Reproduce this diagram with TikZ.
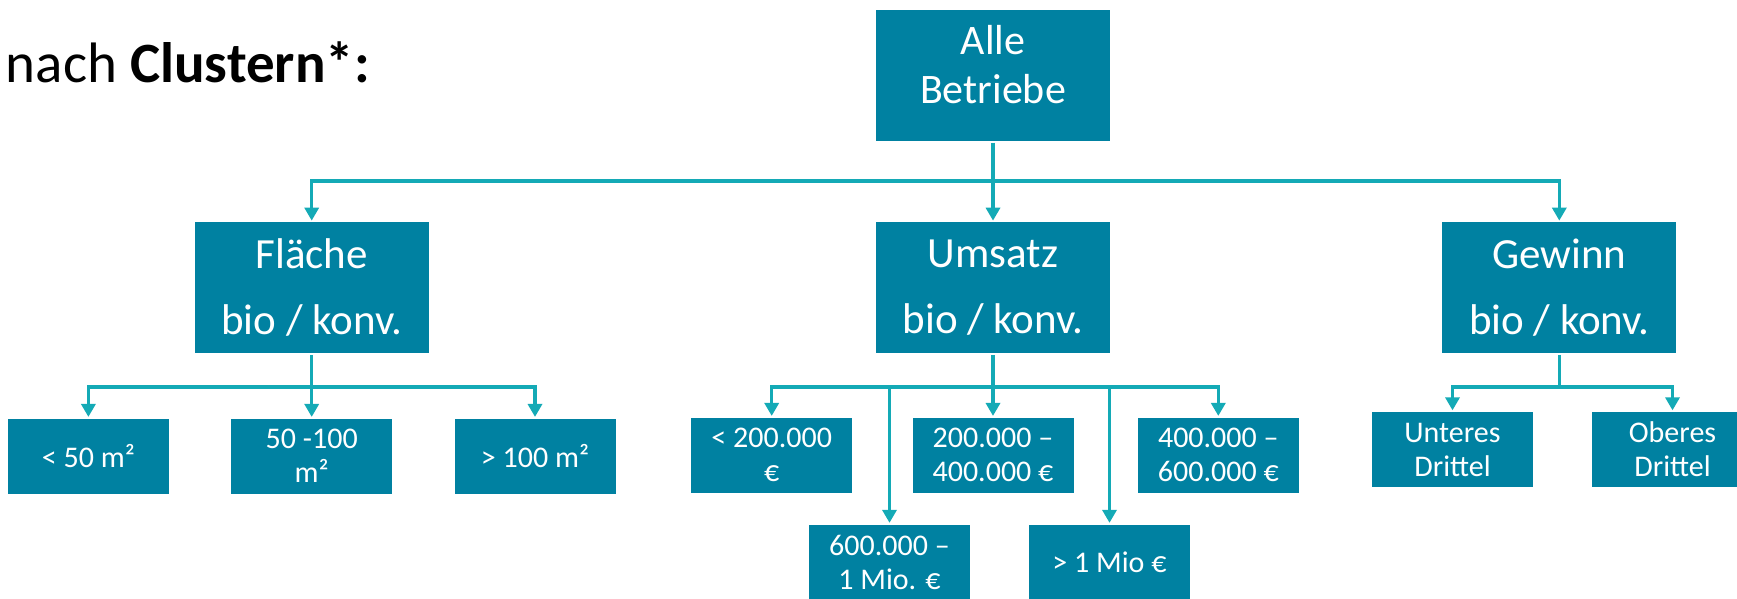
\documentclass[tikz,border=0pt]{standalone}
\usepackage{fontspec}
\setmainfont{Carlito}
\usepackage{tikz}
\usetikzlibrary{positioning}
\usetikzlibrary{arrows.meta}
\definecolor{boxteal}{RGB}{0,129,161}
\definecolor{linecyan}{RGB}{20,170,182}

\begin{document}
\begin{tikzpicture}
	[x=1pt, y=-1pt, line width=3.3pt,
	 main/.style = {fill=boxteal, text=white, align=center, inner sep=0pt},
	 big/.style = {main, minimum width=234pt, minimum height=131pt, font=\fontsize{43}{66}\selectfont},
	 small/.style = {main, minimum width=161pt, minimum height=75pt, font=\fontsize{30}{34}\selectfont},
	 bus/.style = {draw=linecyan},
	 conn/.style = {bus, -{Triangle[width=14pt,length=13pt]}}]
	\useasboundingbox (0,0) rectangle (1737,599);
	\clip (0,0) rectangle (1737,599);
	\node[anchor=base west, font=\fontsize{57}{60}\selectfont] (titel) at (1,83) {nach \textbf{Clustern*:}};
	% obere Ebene
	\node[big, font=\fontsize{42}{49}\selectfont, text depth=23pt] (alle) at (993,75.5) {Alle\\Betriebe};
	\node[big] (umsatz) [below=78pt of alle] {Umsatz\\bio / konv.};
	\node[big] (flaeche) [left=444pt of umsatz] {Fläche\\bio / konv.};
	\node[big] (gewinn) [right=329pt of umsatz] {Gewinn\\bio / konv.};
	% Fläche
	\node[small] (m50) [below=62pt of flaeche] {50 -100\\m²};
	\node[small] (kl50) [left=59pt of m50] {< 50 m²};
	\node[small] (gr100) [right=59pt of m50] {> 100 m²};
	% Umsatz
	\node[small] (u2) [below=61pt of umsatz] {200.000 –\\400.000 €};
	\node[small] (u1) [left=57pt of u2] {< 200.000\\€};
	\node[small] (u3) [right=61pt of u2] {400.000 –\\600.000 €};
	\node[small] (u4) at (889.5,562) {600.000 –\\1 Mio. €};
	\node[small] (u5) at (1109.5,562) {> 1 Mio €};
	% Gewinn
	\node[small] (g1) at (1452.5,449.5) {Unteres\\Drittel};
	\node[small] (g2) at (1672.5,449.5) {Oberes\\Drittel};
	\coordinate (bus1) at (993,181);
	\draw[conn] (alle) -- (umsatz);
	\draw[conn] (bus1) -| (flaeche);
	\draw[conn] (bus1) -| (gewinn);
	\coordinate[below=32pt of flaeche] (bf);
	\draw[bus] (flaeche) -- (bf);
	\draw[conn] (bf) -| (kl50);
	\draw[conn] (bf) -- (m50);
	\draw[conn] (bf) -| (gr100);
	\coordinate[below=32pt of umsatz] (bu);
	\draw[bus] (umsatz) -- (bu);
	\draw[conn] (bu) -| (u1);
	\draw[conn] (bu) -| (u4);
	\draw[conn] (bu) -- (u2);
	\draw[conn] (bu) -| (u5);
	\draw[conn] (bu) -| (u3);
	\coordinate[below=32pt of gewinn] (bg);
	\draw[bus] (gewinn) -- (bg);
	\draw[conn] (bg) -| (g1);
	\draw[conn] (bg) -| (g2);
\end{tikzpicture}
\end{document}
